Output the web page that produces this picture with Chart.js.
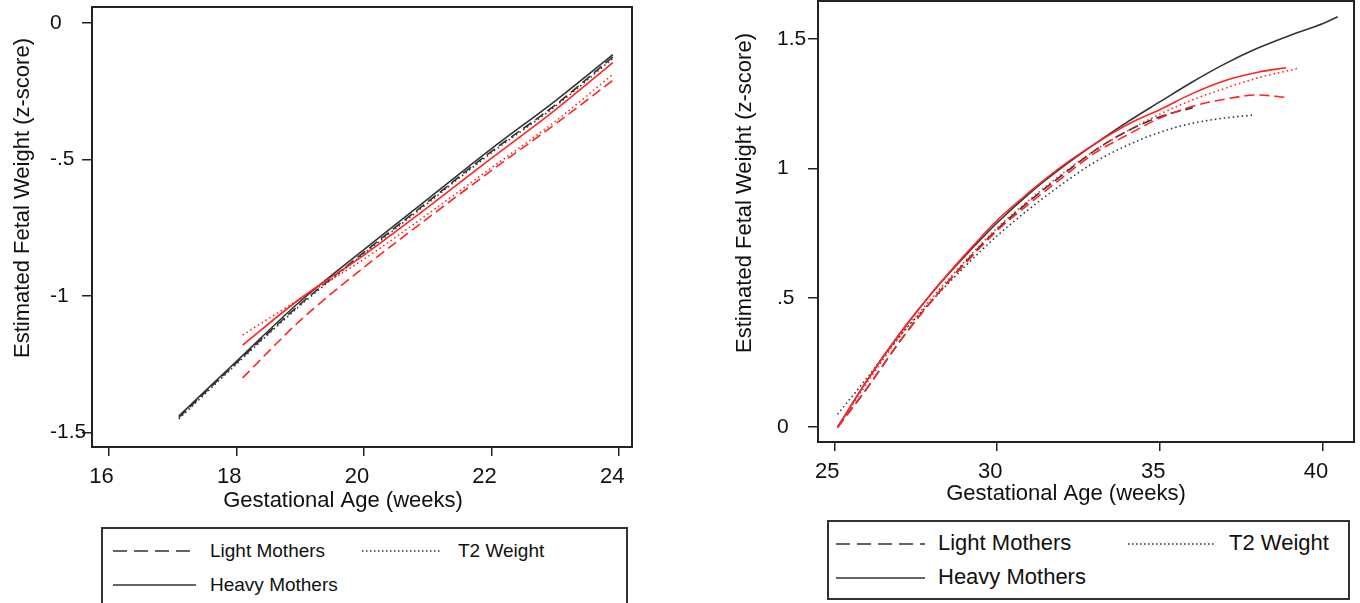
<!DOCTYPE html>
<html>
<head>
<meta charset="utf-8">
<script src="https://cdn.jsdelivr.net/npm/chart.js"></script>
<style>
  body { margin: 0; background: #fff; width: 1360px; height: 603px; overflow: hidden; position: relative;
         font-family: "Liberation Sans", Arial, sans-serif; color: #111; }
  canvas { position: absolute; top: 0; }
  #leftChart { left: 0; }
  #rightChart { left: 680px; }
  .legend { position: absolute; border: 2px solid #333; background: #fff; box-sizing: border-box; }
  .item { position: absolute; white-space: nowrap; line-height: 1; }
  .item svg { position: absolute; overflow: visible; }
</style>
</head>
<body>
<canvas id="leftChart" width="680" height="520"></canvas>
<canvas id="rightChart" width="680" height="520"></canvas>
<div id="leftLegend" class="legend" style="left:101px; top:527px; width:527px; height:95px;"></div>
<div id="rightLegend" class="legend" style="left:827px; top:520px; width:523px; height:80px;"></div>

<script>
// ---- left panel (weeks 17-24) ----
var leftWeeksBlack = [17.1, 18, 19, 20, 21, 22, 23, 23.9];
var leftLightBlack = [-1.445, -1.245, -1.03, -0.84, -0.655, -0.47, -0.3, -0.124];
var leftT2Black    = [-1.45, -1.25, -1.035, -0.845, -0.66, -0.475, -0.305, -0.13];
var leftHeavyBlack = [-1.44, -1.24, -1.02, -0.83, -0.645, -0.46, -0.285, -0.116];
var leftWeeksRed   = [18.1, 19, 20, 21, 22, 23, 23.9];
var leftLightRed   = [-1.30, -1.09, -0.895, -0.715, -0.54, -0.37, -0.21];
var leftT2Red      = [-1.143, -1.01, -0.865, -0.70, -0.53, -0.36, -0.188];
var leftHeavyRed   = [-1.18, -1.01, -0.85, -0.675, -0.495, -0.318, -0.145];
var leftXTicks = [16, 18, 20, 22, 24];
var leftYTicks = [0, -0.5, -1, -1.5];
var leftYTickLabels = ['0', '-.5', '-1', '-1.5'];

// ---- right panel (weeks 25-41) ----
var rightWeeksHeavyBlack = [25.1, 26, 27, 28, 29, 30, 31, 32, 33, 34, 35, 36, 37, 38, 39, 40, 40.45];
var rightHeavyBlack = [0.0, 0.18, 0.36, 0.52, 0.66, 0.79, 0.905, 1.005, 1.095, 1.18, 1.258, 1.335, 1.405, 1.465, 1.515, 1.56, 1.586];
var rightWeeksLightBlack = [25.1, 26, 27, 28, 29, 30, 31, 32, 33, 34, 35, 36];
var rightLightBlack = [0.0, 0.15, 0.33, 0.49, 0.635, 0.765, 0.875, 0.975, 1.07, 1.145, 1.2, 1.235];
var rightWeeksT2Black = [25.1, 26, 27, 28, 29, 30, 31, 32, 33, 34, 35, 36, 37, 37.9];
var rightT2Black = [0.05, 0.19, 0.35, 0.49, 0.62, 0.74, 0.845, 0.94, 1.025, 1.09, 1.14, 1.175, 1.195, 1.207];
var rightWeeksHeavyRed = [25.1, 26, 27, 28, 29, 30, 31, 32, 33, 34, 35, 36, 37, 38, 38.87];
var rightHeavyRed = [0.0, 0.18, 0.36, 0.52, 0.665, 0.80, 0.91, 1.01, 1.095, 1.17, 1.228, 1.29, 1.34, 1.372, 1.389];
var rightWeeksT2Red = [25.1, 26, 27, 28, 29, 30, 31, 32, 33, 34, 35, 36, 37, 38, 39, 39.2];
var rightT2Red = [0.0, 0.17, 0.35, 0.5, 0.64, 0.77, 0.88, 0.98, 1.07, 1.145, 1.21, 1.265, 1.31, 1.35, 1.38, 1.386];
var rightWeeksLightRed = [25.1, 26, 27, 28, 29, 30, 31, 32, 33, 34, 35, 36, 37, 38, 38.9];
var rightLightRed = [0.0, 0.15, 0.33, 0.49, 0.63, 0.76, 0.865, 0.965, 1.06, 1.13, 1.195, 1.24, 1.268, 1.284, 1.274];
var rightXTicks = [25, 30, 35, 40];
var rightYTicks = [0, 0.5, 1, 1.5];
var rightYTickLabels = ['0', '.5', '1', '1.5'];

var seriesNames = ['Light Mothers', 'T2 Weight', 'Heavy Mothers'];
var xTitle = 'Gestational Age (weeks)';
var yTitle = 'Estimated Fetal Weight (z-score)';

var FONT = '"Liberation Sans", Arial, sans-serif';
var BLACK = '#333333';
var RED = '#ff2424';
var DASH = [10, 5];
var DOT = [1.5, 3];

function pts(weeks, vals) {
  return weeks.map(function (w, i) { return { x: w, y: vals[i] }; });
}

function line(label, data, color, dash, order) {
  return {
    label: label,
    data: data,
    borderColor: color,
    borderWidth: 1.6,
    borderDash: dash,
    pointRadius: 0,
    cubicInterpolationMode: 'monotone',
    fill: false,
    order: order
  };
}

// axis titles + frame drawn around the plot area
var frameAndTitles = {
  id: 'frameAndTitles',
  afterDraw: function (chart, args, opts) {
    var ctx = chart.ctx, a = chart.chartArea;
    ctx.save();
    ctx.strokeStyle = '#222';
    ctx.lineWidth = 2;
    ctx.strokeRect(a.left, a.top, a.right - a.left, a.bottom - a.top);
    ctx.fillStyle = '#111';
    ctx.font = opts.size + 'px ' + FONT;
    ctx.textAlign = 'center';
    ctx.textBaseline = 'middle';
    ctx.fillText(xTitle, opts.xTitlePos[0], opts.xTitlePos[1]);
    ctx.translate(opts.yTitlePos[0], opts.yTitlePos[1]);
    ctx.rotate(-Math.PI / 2);
    ctx.fillText(yTitle, 0, 0);
    ctx.restore();
  }
};

function makeChart(id, datasets, cfg) {
  var ctx = document.getElementById(id).getContext('2d');
  return new Chart(ctx, {
    type: 'line',
    data: { datasets: datasets },
    plugins: [frameAndTitles],
    options: {
      responsive: false,
      animation: false,
      layout: { padding: cfg.padding },
      plugins: {
        legend: { display: false },
        tooltip: { enabled: false },
        frameAndTitles: { size: 22, xTitlePos: cfg.xTitlePos, yTitlePos: cfg.yTitlePos }
      },
      scales: {
        x: {
          type: 'linear',
          min: cfg.xMin, max: cfg.xMax,
          afterBuildTicks: function (s) { s.ticks = cfg.xTicks.map(function (v) { return { value: v }; }); },
          afterFit: function (s) { s.height = cfg.xHeight; s.paddingLeft = 0; s.paddingRight = 0; },
          grid: { drawOnChartArea: false, tickLength: 9, color: '#222', lineWidth: 1.5 },
          border: { display: true, color: '#222', width: 2 },
          ticks: { autoSkip: false, maxRotation: 0, padding: 8, labelOffset: -7, color: '#111',
                   font: { family: FONT, size: 22 } }
        },
        y: {
          type: 'linear',
          min: cfg.yMin, max: cfg.yMax,
          afterBuildTicks: function (s) { s.ticks = cfg.yTicks.map(function (v) { return { value: v }; }); },
          afterFit: function (s) { s.width = cfg.yWidth; s.paddingTop = 0; s.paddingBottom = 0; },
          grid: { drawOnChartArea: false, tickLength: 10, color: '#222', lineWidth: 1.5 },
          border: { display: true, color: '#222', width: 2 },
          ticks: {
            autoSkip: false, crossAlign: 'far', color: '#111',
            font: { family: FONT, size: 21 },
            callback: function (v) { return cfg.yTickLabels[cfg.yTicks.indexOf(v)]; }
          }
        }
      }
    }
  });
}

makeChart('leftChart', [
  line(seriesNames[0], pts(leftWeeksRed, leftLightRed), RED, DASH, 0),
  line(seriesNames[1], pts(leftWeeksRed, leftT2Red), RED, DOT, 0),
  line(seriesNames[2], pts(leftWeeksRed, leftHeavyRed), RED, [], 0),
  line(seriesNames[0], pts(leftWeeksBlack, leftLightBlack), BLACK, DASH, 1),
  line(seriesNames[1], pts(leftWeeksBlack, leftT2Black), BLACK, DOT, 1),
  line(seriesNames[2], pts(leftWeeksBlack, leftHeavyBlack), BLACK, [], 1)
], {
  padding: { left: 50, top: 7, right: 48, bottom: 0 },
  xMin: 15.74, xMax: 24.2, xTicks: leftXTicks, xHeight: 73,
  yMin: -1.553, yMax: 0.0586, yTicks: leftYTicks, yTickLabels: leftYTickLabels, yWidth: 42,
  xTitlePos: [343, 501], yTitlePos: [23, 198]
});

makeChart('rightChart', [
  line(seriesNames[0], pts(rightWeeksLightRed, rightLightRed), RED, DASH, 0),
  line(seriesNames[1], pts(rightWeeksT2Red, rightT2Red), RED, DOT, 0),
  line(seriesNames[2], pts(rightWeeksHeavyRed, rightHeavyRed), RED, [], 0),
  line(seriesNames[0], pts(rightWeeksLightBlack, rightLightBlack), BLACK, DASH, 1),
  line(seriesNames[1], pts(rightWeeksT2Black, rightT2Black), BLACK, DOT, 1),
  line(seriesNames[2], pts(rightWeeksHeavyBlack, rightHeavyBlack), BLACK, [], 1)
], {
  padding: { left: 97, top: 1, right: 6, bottom: 0 },
  xMin: 24.5, xMax: 40.95, xTicks: rightXTicks, xHeight: 78,
  yMin: -0.057, yMax: 1.647, yTicks: rightYTicks, yTickLabels: rightYTickLabels, yWidth: 41,
  xTitlePos: [1066 - 680, 494], yTitlePos: [745 - 680, 193]
});

// legend: only the black (reference) series are listed
function buildLegend(id, fontSize, spots) {
  var box = document.getElementById(id);
  var dashes = [DASH, DOT, []];
  seriesNames.forEach(function (name, i) {
    var s = spots[i];
    var el = document.createElement('div');
    el.className = 'item';
    el.style.left = '0px';
    el.style.top = '0px';
    var dash = dashes[i].length ? 'stroke-dasharray="' + (i === 0 ? '14 7' : '1.5 2.5') + '"' : '';
    el.innerHTML =
      '<svg style="left:' + s[0] + 'px;top:' + s[2] + 'px" width="' + (s[1] - s[0]) + '" height="2">' +
      '<line x1="0" y1="1" x2="' + (s[1] - s[0]) + '" y2="1" stroke="' + BLACK + '" stroke-width="1.6" ' + dash + '/></svg>' +
      '<span style="position:absolute;left:' + s[3] + 'px;top:' + (s[2] - fontSize / 2) + 'px;font-size:' + fontSize + 'px">' + name + '</span>';
    box.appendChild(el);
  });
}

// [line start, line end, line y, text x] relative to the legend box
buildLegend('leftLegend', 19, [[10, 87, 21, 107], [259, 338, 21, 355], [10, 93, 55, 107]]);
buildLegend('rightLegend', 22, [[7, 96, 21, 109], [299, 386, 21, 400], [7, 96, 55, 109]]);
</script>
</body>
</html>
